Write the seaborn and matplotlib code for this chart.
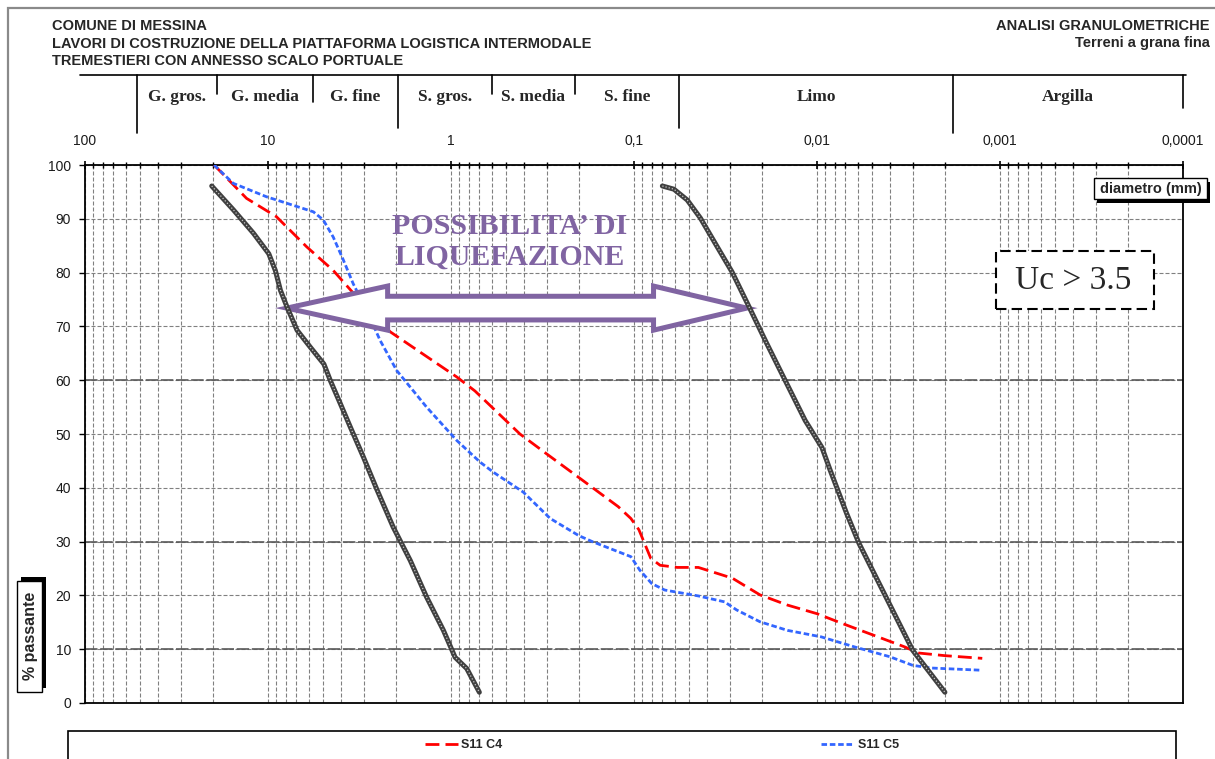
import numpy as np
import pandas as pd
import matplotlib
matplotlib.use("Agg")
import matplotlib.pyplot as plt
import matplotlib.transforms as mtransforms
from matplotlib.patches import Rectangle, Polygon
from matplotlib.lines import Line2D
from matplotlib.ticker import FixedLocator, LogLocator, NullFormatter
import seaborn as sns

# ---- grain size curves: diameter (mm) and percent passing ----
c4_diam = [19.7, 13.1, 9.0, 6.15, 4.4, 3.4, 2.15, 0.93, 0.74, 0.42, 0.30, 0.20,
           0.122, 0.104, 0.094, 0.081, 0.072, 0.058, 0.0445, 0.029, 0.0205,
           0.0145, 0.010, 0.0073, 0.0050, 0.0033, 0.0028, 0.0020, 0.00125]
c4_pass = [100, 93.8, 90.4, 84.8, 80.4, 76.1, 69.0, 60.6, 58.0, 50.0, 46.3, 41.9,
           36.5, 34.3, 32.2, 26.9, 25.6, 25.2, 25.2, 23.2, 20.1,
           18.2, 16.6, 14.8, 12.7, 10.4, 9.3, 8.8, 8.3]

c5_diam = [19.7, 15.5, 10.2, 7.27, 5.65, 4.99, 4.4, 3.87, 3.42, 2.89, 2.44, 1.98,
           1.36, 0.93, 0.695, 0.587, 0.403, 0.287, 0.20, 0.169, 0.104, 0.093,
           0.080, 0.068, 0.0445, 0.032, 0.0275, 0.0205, 0.0145, 0.0095, 0.0062,
           0.0040, 0.0030, 0.00237, 0.00128]
c5_pass = [100, 96.6, 94.1, 92.5, 91.3, 89.8, 86.6, 82.3, 77.9, 73.0, 67.4, 61.8,
           55.0, 48.8, 44.8, 42.9, 39.2, 34.3, 31.1, 30.0, 27.2, 24.7,
           22.2, 21.0, 19.9, 18.8, 17.3, 15.1, 13.5, 12.3, 10.4,
           8.6, 7.0, 6.5, 6.1]

# liquefaction band limits (Uc > 3.5)
lim_coarse_diam = [20.3, 15.4, 12.0, 9.9, 9.12, 8.55, 7.87, 6.94, 5.86, 4.95, 4.56,
                   4.02, 3.54, 3.01, 2.55, 2.07, 1.67, 1.36, 1.10, 0.95, 0.82, 0.70]
lim_coarse_pass = [96.1, 91.6, 87.3, 83.5, 80.4, 76.7, 73.6, 69.3, 66.1, 63.0, 59.9,
                   55.6, 51.2, 45.7, 39.8, 32.7, 26.5, 19.7, 13.5, 8.5, 6.4, 2.0]
lim_fine_diam = [0.070, 0.0605, 0.0512, 0.0433, 0.0351, 0.0291, 0.0231, 0.0188,
                 0.0146, 0.0116, 0.0094, 0.0085, 0.0069, 0.0059, 0.0043, 0.0030, 0.0020]
lim_fine_pass = [96.1, 95.5, 93.5, 90.1, 84.8, 80.1, 73.1, 66.8,
                 59.3, 52.5, 47.5, 43.4, 35.3, 29.7, 20.4, 9.8, 2.0]

# ---- size classes shown in the header strip ----
class_bounds = [52, 19, 5.7, 1.95, 0.6, 0.21, 0.057, 0.0018, 0.0001]
class_names = ["G. gros.", "G. media", "G. fine", "S. gros.", "S. media",
               "S. fine", "Limo", "Argilla"]

x_ticks = [100, 10, 1, 0.1, 0.01, 0.001, 0.0001]
x_tick_labels = ["100", "10", "1", "0,1", "0,01", "0,001", "0,0001"]
y_ticks = list(range(0, 101, 10))

W, H = 1215, 759
sns.set_style("white")
plt.rcParams["font.family"] = ["Liberation Sans", "DejaVu Sans"]

fig = plt.figure(figsize=(W / 100, H / 100), dpi=100)
ax = fig.add_axes([85 / W, 56 / H, 1098 / W, 538 / H])


def px(x, y):
    """pixel position (from top-left) -> figure fraction"""
    return x / W, 1 - y / H


df4 = pd.DataFrame({"d": c4_diam, "p": c4_pass})
df5 = pd.DataFrame({"d": c5_diam, "p": c5_pass})
dfa = pd.DataFrame({"d": lim_coarse_diam, "p": lim_coarse_pass})
dfb = pd.DataFrame({"d": lim_fine_diam, "p": lim_fine_pass})

sns.lineplot(data=df4, x="d", y="p", ax=ax, color="#FF0000", lw=2.0,
             estimator=None, sort=False, label="S11 C4", zorder=3)
line_c4 = ax.lines[-1]
line_c4.set_dashes([5.0, 2.2])

sns.lineplot(data=df5, x="d", y="p", ax=ax, color="#3366FF", lw=2.0,
             estimator=None, sort=False, label="S11 C5", zorder=3)
line_c5 = ax.lines[-1]
line_c5.set_dashes([2.0, 1.0])

for dfl in (dfa, dfb):
    sns.lineplot(data=dfl, x="d", y="p", ax=ax, color="#404040", lw=3.6,
                 estimator=None, sort=False, zorder=6)
    ax.lines[-1].set_solid_capstyle("round")
    ax.lines[-1].set_solid_joinstyle("round")
    sns.lineplot(data=dfl, x="d", y="p", ax=ax, color="#C8C8C8", lw=0.9,
                 estimator=None, sort=False, zorder=7)
    ax.lines[-1].set_dashes([1.0, 1.6])

if ax.get_legend() is not None:
    ax.get_legend().remove()

ax.set_xscale("log")
ax.set_xlim(100, 0.0001)
ax.set_ylim(0, 100)
ax.set_xlabel("")
ax.set_ylabel("")

# grid
ax.xaxis.set_major_locator(FixedLocator(x_ticks))
ax.xaxis.set_minor_locator(LogLocator(base=10, subs=np.arange(2, 10)))
ax.xaxis.set_minor_formatter(NullFormatter())
ax.set_xticks(x_ticks)
ax.set_xticklabels(x_tick_labels)
ax.set_yticks(y_ticks)
ax.grid(True, which="both", axis="x", color="#808080", lw=0.8,
        linestyle=(0, (3.6, 1.8)), zorder=1)
ax.grid(True, which="major", axis="y", color="#808080", lw=0.8,
        linestyle=(0, (3.6, 1.8)), zorder=1)
for lvl in (10, 30, 60):
    ax.axhline(lvl, color="#5A5A5A", lw=1.2, linestyle=(0, (7.5, 1.6)), zorder=1.5)

ax.xaxis.tick_top()
ax.tick_params(axis="x", which="major", direction="inout", length=6, width=1.2,
               color="black", pad=9, labelsize=10, labelcolor="#1a1a1a")
ax.tick_params(axis="x", which="minor", direction="inout", length=4.5, width=1.0,
               color="black")
ax.tick_params(axis="y", which="major", direction="out", length=4, width=1.0,
               color="black", pad=6, labelsize=10, labelcolor="#1a1a1a", left=True)
for s in ax.spines.values():
    s.set_visible(True)
    s.set_color("black")
    s.set_linewidth(1.3)

# liquefaction double arrow (outlined)
lvl = 73.4
tipL, tipR = 7.9, 0.0242
headL, headR = 2.22, 0.0782
hh, sh = 4.1, 2.2
arrow_pts = [(tipL, lvl), (headL, lvl + hh), (headL, lvl + sh), (headR, lvl + sh),
             (headR, lvl + hh), (tipR, lvl), (headR, lvl - hh), (headR, lvl - sh),
             (headL, lvl - sh), (headL, lvl - hh)]
ax.add_patch(Polygon(arrow_pts, closed=True, facecolor="white", edgecolor="#8064A2",
                     lw=3.6, joinstyle="miter", zorder=5))

fig.text(*px(510, 242), "POSSIBILITA\u2019 DI\nLIQUEFAZIONE",
         ha="center", va="center", color="#8064A2", fontsize=21.5, fontweight="bold",
         family="Liberation Serif", linespacing=1.2, zorder=4)

# Uc box
bx0, by0 = px(996, 309)
bx1, by1 = px(1154, 251)
fig.patches.append(Rectangle((bx0, by0), bx1 - bx0, by1 - by0, transform=fig.transFigure,
                             facecolor="white", edgecolor="black", lw=1.5,
                             linestyle=(0, (5, 2.5)), zorder=8))
fig.text(*px(1073, 281), "Uc > 3.5", ha="center", va="center", fontsize=24,
         family="Liberation Serif", zorder=9)


def shadow_box(x0, y0, x1, y1, dx, dy):
    a0, a1 = px(x0 + dx, y1 + dy)
    b0, b1 = px(x1 + dx, y0 + dy)
    fig.patches.append(Rectangle((a0, a1), b0 - a0, b1 - a1, transform=fig.transFigure,
                                 facecolor="black", edgecolor="black", lw=0, zorder=8))
    a0, a1 = px(x0, y1)
    b0, b1 = px(x1, y0)
    fig.patches.append(Rectangle((a0, a1), b0 - a0, b1 - a1, transform=fig.transFigure,
                                 facecolor="white", edgecolor="black", lw=1.0, zorder=9))


shadow_box(1094, 178, 1207, 199, 3, 4)
fig.text(*px(1151, 189), "diametro (mm)", ha="center", va="center", fontsize=10.5,
         fontweight="bold", zorder=10)

shadow_box(17, 581, 42, 692, 4, -4)
fig.text(*px(30, 636), "% passante", ha="center", va="center", fontsize=11.5,
         fontweight="bold", rotation=90, zorder=10)

# header strip with the size classes
hdr = mtransforms.blended_transform_factory(ax.transData, fig.transFigure)
fig.add_artist(Line2D([px(80, 0)[0], px(1186, 0)[0]], [px(0, 75)[1]] * 2,
                      transform=fig.transFigure, color="black", lw=1.2))
div_bottom = [133, 94, 102, 128, 94, 94, 128, 133, 108]
for b, yb in zip(class_bounds, div_bottom):
    fig.add_artist(Line2D([b, b], [px(0, 75)[1], px(0, yb)[1]], transform=hdr,
                          color="black", lw=1.2))
for i, name in enumerate(class_names):
    xc = np.sqrt(class_bounds[i] * class_bounds[i + 1])
    fig.text(xc, px(0, 97)[1], name, transform=hdr, ha="center", va="center",
             fontsize=12.5, fontweight="bold", family="Liberation Serif")

# page titles
title_font = dict(fontsize=10.5, fontweight="bold", va="center")
fig.text(*px(52, 26), "COMUNE DI MESSINA", ha="left", **title_font)
fig.text(*px(52, 44), "LAVORI DI COSTRUZIONE DELLA PIATTAFORMA LOGISTICA INTERMODALE",
         ha="left", **title_font)
fig.text(*px(52, 61), "TREMESTIERI CON ANNESSO SCALO PORTUALE", ha="left", **title_font)
fig.text(*px(1210, 26), "ANALISI GRANULOMETRICHE", ha="right", **title_font)
fig.text(*px(1210, 43), "Terreni a grana fina", ha="right", **title_font)

# outer frame
fx0, fy0 = px(8, 780)
fx1, fy1 = px(1240, 8)
fig.patches.append(Rectangle((fx0, fy0), fx1 - fx0, fy1 - fy0, transform=fig.transFigure,
                             facecolor="none", edgecolor="#8a8a8a", lw=1.6, zorder=0))

# legend box
lx0, ly0 = px(68, 780)
lx1, ly1 = px(1176, 731)
fig.patches.append(Rectangle((lx0, ly0), lx1 - lx0, ly1 - ly0, transform=fig.transFigure,
                             facecolor="white", edgecolor="black", lw=1.2, zorder=1))
leg = fig.legend(handles=[line_c4, line_c5], labels=["S11 C4", "S11 C5"], ncol=2,
                 loc="center", bbox_to_anchor=px(662, 745), frameon=False,
                 prop={"weight": "bold", "size": 9}, handlelength=2.6,
                 handletextpad=0.3, columnspacing=25.5)
leg.set_zorder(3)

fig.savefig("out.png", dpi=100)
